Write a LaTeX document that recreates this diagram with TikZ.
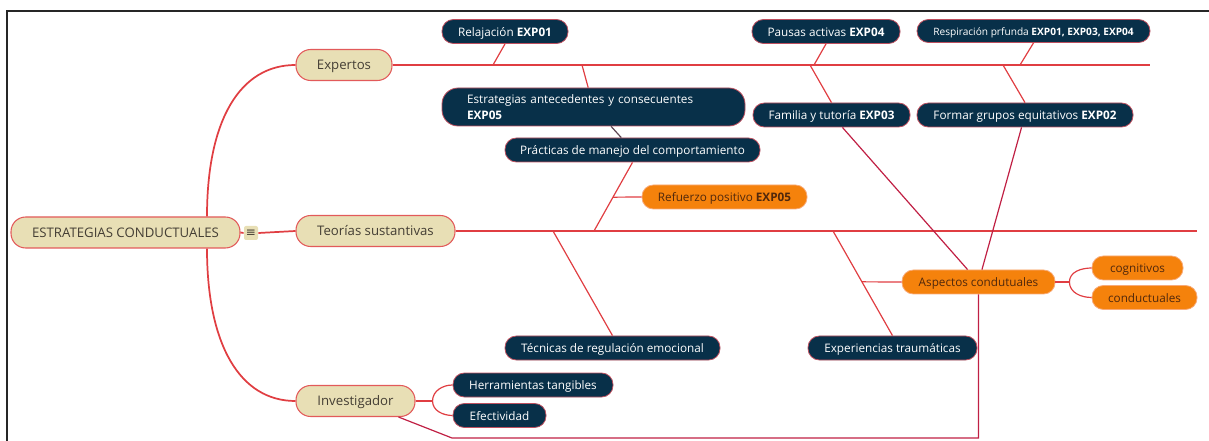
\documentclass[tikz,border=0pt]{standalone}
\usepackage{fontspec}
\setmainfont{Open Sans}
\newfontfamily\symfont{DejaVu Sans}
\usetikzlibrary{calc}
\definecolor{beige}{RGB}{232,223,181}
\definecolor{beigebd}{RGB}{226,90,90}
\definecolor{beigetx}{RGB}{68,62,52}
\definecolor{navy}{RGB}{8,48,73}
\definecolor{navybd}{RGB}{190,80,95}
\definecolor{orng}{RGB}{245,130,12}
\definecolor{orngbd}{RGB}{248,170,120}
\definecolor{orngtx}{RGB}{80,40,12}
\definecolor{lnred}{RGB}{224,62,66}
\definecolor{lncrim}{RGB}{192,32,68}
\definecolor{lngray}{RGB}{95,70,82}
\begin{document}
\begin{tikzpicture}[x=0.75pt,y=-0.75pt,
  sz/.style 2 args={minimum width=#1*0.75pt, minimum height=#2*0.75pt},
  base/.style={inner sep=0pt, line width=0.6pt, anchor=center, text height=0.714em, text depth=0pt},
  topic/.style={base, draw=beigebd, fill=beige, text=beigetx, rounded corners=11pt, font=\fontsize{9.9}{11}\selectfont, line width=0.8pt},
  dark/.style={base, draw=navybd, fill=navy, text=white, rounded corners=8.5pt, font=\fontsize{8.8}{10}\selectfont},
  orange/.style={base, draw=orngbd, fill=orng, text=orngtx, rounded corners=8.5pt, font=\fontsize{8.8}{10}\selectfont},
  main/.style={draw=lnred, line width=1.3pt},
  branch/.style={draw=lnred, line width=0.9pt},
  crim/.style={draw=lncrim, line width=0.9pt},
]
\useasboundingbox (0,0) rectangle (1209,441);
% frame
\draw[line width=1.3pt, black!85] (7,441) -- (7,11) -- (1209,11);

% topics
\node[topic, sz={229}{31}] (root) at (125.5,232.5) {ESTRATEGIAS CONDUCTUALES};
\node[base, fill=beige, sz={14}{14}, rounded corners=1.5pt, font=\symfont\fontsize{9}{9}\selectfont, text=beigetx, text height=, text depth=] (icon) at (251,233) {≡};
\node[topic, sz={96}{31}] (exp) at (344,65) {Expertos};
\node[topic, sz={159}{31}] (teo) at (375.5,231) {Teorías sustantivas};
\node[topic, sz={119}{31}] (inv) at (355.5,401) {Investigador};

% expertos subtopics
\node[dark, sz={126}{24}] (rel) at (505,31.5) {Relajación \textbf{EXP01}};
\node[dark, sz={303}{38}, rounded corners=12pt, align=left, text width=189.75pt, inner xsep=18.75pt, text height=, text depth=, font=\fontsize{8.8}{11.5}\selectfont] (est) at (593.5,107) {Estrategias antecedentes y consecuentes\\\textbf{EXP05}};
\node[dark, sz={148}{24}] (pau) at (826,31.5) {Pausas activas \textbf{EXP04}};
\node[dark, sz={157}{24}] (fam) at (831.5,115) {Familia y tutoría \textbf{EXP03}};
\node[dark, sz={233}{23}, font=\fontsize{7.6}{9}\selectfont] (res) at (1033.5,31) {Respiración prfunda \textbf{EXP01, EXP03, EXP04}};
\node[dark, sz={216}{24}] (for) at (1025,115) {Formar grupos equitativos \textbf{EXP02}};

% teorias subtopics
\node[dark, sz={255}{24}] (prac) at (632.5,150) {Prácticas de manejo del comportamiento};
\node[orange, sz={165}{24}] (ref) at (724.5,197) {Refuerzo positivo \textbf{EXP05}};
\node[dark, sz={215}{24}] (tec) at (612.5,348) {Técnicas de regulación emocional};
\node[dark, sz={169}{24}] (exptr) at (892.5,348) {Experiencias traumáticas};
\node[orange, sz={153}{24}] (asp) at (978.5,282) {Aspectos condutuales};
\node[orange, sz={91}{24}] (cog) at (1137.5,268) {cognitivos};
\node[orange, sz={105}{24}] (con) at (1144.5,297.5) {conductuales};

% investigador subtopics
\node[dark, sz={160}{24}] (her) at (533,385) {Herramientas tangibles};
\node[dark, sz={93}{24}] (efe) at (499.5,415.5) {Efectividad};

% coordinates on lines
\coordinate (eEnd) at (1150,65);
\coordinate (tEnd) at (1197,231);
\coordinate (e1) at (493,65);
\coordinate (e2) at (582,65);
\coordinate (e3) at (814,65);
\coordinate (e4) at (810,65);
\coordinate (e5) at (1020,65);
\coordinate (e6) at (1003,65);
\coordinate (t1) at (594,231);
\coordinate (t2) at (553,231);
\coordinate (t3) at (833,231);
\coordinate (r1) at ($(prac.south)!0.507!(t1)$);
\coordinate (a1) at ($(t3)!0.486!(exptr.north)$);
\coordinate (b1) at ($(asp.east)+(14,0)$);
\coordinate (b2) at ($(inv.east)+(17,0)$);
\coordinate (iS) at ($(inv.south east)+(-17,0)$);
\coordinate (i1) at (452,438);
\coordinate (i2) at (978.5,438);

% root connectors
\draw[main] ($(root.north)+(81.5,0)$) .. controls (207,120) and (240,65) .. (exp.west);
\draw[main] ($(root.south)+(81.5,0)$) .. controls (207,345) and (240,401) .. (inv.west);
\draw[main] (root.east) -- (icon.west);
\draw[main] (icon.east) -- (teo.west);

% main lines
\draw[main] (exp.east) -- (eEnd);
\draw[main] (teo.east) -- (tEnd);

% expertos branches
\draw[branch] (rel.south) -- (e1);
\draw[branch] (e2) -- (est);
\draw[branch] (pau.south) -- (e3);
\draw[branch] (e4) -- (fam.north);
\draw[branch] (res.south) -- (e5);
\draw[branch] (e6) -- (for.north);
\draw[draw=lngray, line width=0.9pt] (est) -- (prac);

% teorias branches
\draw[branch] (prac.south) -- (t1);
\draw[branch] (r1) -- (ref.west);
\draw[branch] (t2) -- (tec.north);
\draw[branch] (t3) -- (exptr.north);
\draw[branch] (a1) -- (asp.west);
\draw[branch] (asp.east) -- (b1);
\draw[branch] (b1) to[out=90,in=180] (cog.west);
\draw[branch] (b1) to[out=-90,in=180] (con.west);

% crimson links
\draw[crim] (fam) -- (asp);
\draw[crim] (for) -- (asp);
\draw[crim] (iS) -- (i1) -- (i2) -- (asp.south);

% investigador branches
\draw[branch] (inv.east) -- (b2);
\draw[branch] (b2) to[out=90,in=180] (her.west);
\draw[branch] (b2) to[out=-90,in=180] (efe.west);
\end{tikzpicture}
\end{document}
